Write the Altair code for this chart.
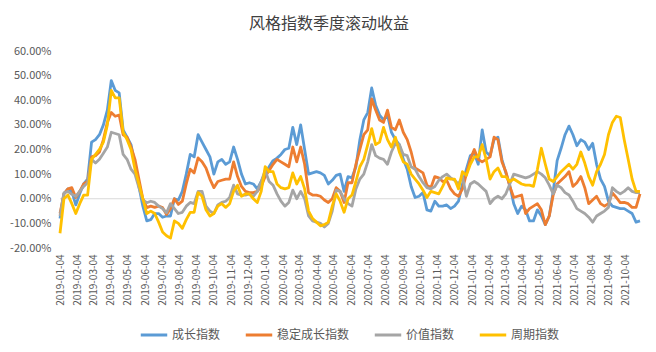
import altair as alt
import pandas as pd

# weekly observations starting 2019-01-04 (Fridays)
start_date = "2019-01-04"

growth = [-8, 2, 4, 3, -2.5, 2, 6, 8, 23, 24, 26, 30, 36, 48, 44, 43, 28, 25, 22, 14,
          5, -3, -9, -8.5, -6, -6, -7.5, -7, -7, 0, -0.5, 3, 10, 18, 17, 26, 23, 20, 17, 10,
          15, 16, 14, 15, 21, 16, 10, 6, 6.5, 6, 4, 7, 10.5, 13, 15.5, 16.5, 18, 20, 20.5, 29,
          22, 30, 20, 10, 10.5, 11, 10.5, 9.5, 6, 7.5, 9.5, 10, 3, 9, 8.5, 13, 24, 32, 35, 45,
          38, 34, 32, 34, 27, 24, 22, 16, 12, 5, 0.5, 1, 2.5, -4.5, -5, -1, -3, -3, -2.5, -4,
          -3, -1, 6, 12, 17.5, 18.5, 14, 28, 19, 17.5, 24, 25, 16, 10.5, 5.5, -2, -6, -3, -4.5, -9,
          -9, -4.5, -7, -10.5, -7, 3, 15.5, 20.5, 26, 29.5, 26, 21.5, 24, 23, 20, 22.5, 14, 8, 5, -1,
          -3, -3.5, -4, -4, -5, -6, -9.5, -9]

stable = [-6, 2, 4, 4.5, 0.5, 3, 6, 7, 17, 17.5, 19, 24, 31, 35, 33.5, 34, 26, 25, 21, 16,
          8, 0, -3.6, -3, -3.5, -3, -3.6, -6.4, -4, 0, -2.3, -1, 6, 12, 10.5, 16.6, 15, 12.5, 8, 4.5,
          7, 7.5, 8, 8, 15, 9, 5, 3, 2.5, 2.5, 3, 5, 9, 11.5, 14, 16, 15, 14, 13, 21,
          15, 21, 14, 2.4, 1.5, 1.5, 1, -0.5, -1.5, 0, 4.5, 3, -1.5, 6.5, 6.5, 14, 20, 26, 28, 40.5,
          36, 32, 31, 36, 29, 28, 32, 27, 24, 19, 12.5, 11.5, 10.5, 5.5, 4.5, 9, 8.5, 7, 7.5, 4,
          2, 1, 4, 10, 16, 20, 16, 15, 16, 17, 25, 24, 15, 11, 5, 0.5, 1, 1.5, -6, -4,
          -3, -2, -4.5, -10.5, -7, 1.5, 6, 7.5, 9, 11, 5, 6.5, 9, 4.5, -2, -0.5, 1, -2, -3, -2,
          2.4, 0.5, -1.6, -1.5, -2, -3.5, -3.5, 2]

value = [-7, 2.4, 3, 1.8, 1, 3, 5, 6.5, 16, 14.5, 16, 18.5, 21, 27, 26.5, 26, 18, 16, 12, 10,
         4.5, -0.5, -1.6, -1, -1.5, -3, -4, -5.7, -2, -4, -6, -5.5, -3, -1.5, -2, 3, 3, -3, -5, -6,
         -2.5, -1.5, -1, 0.5, 5.5, 2, 1.5, 1.5, 2, 1, 3, 7, 11.5, 7, 5.5, 2, -1, -3, -1.5, 3.5,
         0, 3, 0, -7, -9, -9.5, -10, -11.5, -10, -5, 3.5, 3, 0, -2, -3, 4, 8, 10, 15, 22,
         17.5, 16.5, 16, 14, 19, 22.5, 22, 18, 17.5, 13, 12, 9, 6.5, 4.5, 4, 5, 7.5, 9, 10, 8.5,
         7.5, 6, 9, 1, 6, 7, 6, 4.5, 3, -2, 0, 1, 0, 2, 6, 10, 9.5, 9, 8.5, 9,
         10, 11, 10, 8.5, 5.5, 2, 5.5, 4.5, 2.5, 1.5, -1, -4, -5, -6, -7.5, -9.5, -7, -6, -5, -3.5,
         4.5, 3, 2, 3, 4.5, 3, 2.5, 2.5]

cycle = [-14, 0, 1.5, -2, -6, -2, 1.5, 1.5, 16, 18, 20, 23, 30, 44, 41, 41, 27, 24, 20, 12,
         6, 0, -6, -5, -6, -9.5, -13.5, -15, -16, -9, -10, -12, -8.5, -5.5, -5.5, 2.5, 1, -4.5, -7, -6,
         -3, -2, -3.5, -2, 3, 5.5, 1, 2, 2, 0, -1.5, 3, 13, 11, 11, 6, 4.5, 4, 4.5, 10.5,
         6, 9, 4, -5, -8, -9.5, -11, -10.5, -9.5, -3, 2, -1, -5.5, 0, 1.5, 7, 13, 16, 22, 28.5,
         22, 23, 29, 24, 21, 25, 19, 15, 14, 10, 8, 6, 3.5, 0.5, 3, 2.5, 2, 5, 8.5, 8,
         8, 4, 11, 9.5, 14, 17, 17, 22, 16, 8, 11, 12.5, 9, 9, 7, 8, 7, 6, 5.5, 5.5,
         5, 12, 20.5, 14, 8, 7, 9, 11, 12.5, 14, 12, 14, 19, 14.5, 9, 5.5, 11, 14, 18, 26,
         31, 33.5, 33, 24, 16, 8, 3, 3]

series_names = ["成长指数", "稳定成长指数", "价值指数", "周期指数"]
series_colors = ["#5B9BD5", "#ED7D31", "#A5A5A5", "#FFC000"]
y_ticks = [-20, -10, 0, 10, 20, 30, 40, 50, 60]
x_tick_months = [(2019 + (m // 12), m % 12 + 1) for m in range(34)]

dates = pd.date_range(start_date, periods=len(growth), freq="7D")
rows = []
for name, vals in zip(series_names, [growth, stable, value, cycle]):
    for d, v in zip(dates, vals):
        rows.append({"date": d.strftime("%Y-%m-%dT00:00:00"), "series": name, "ret": v})
df = pd.DataFrame(rows)

font = "Noto Sans CJK SC"

x_scale = alt.Scale(
    domain=[alt.DateTime(year=2019, month=1, date=4), alt.DateTime(year=2021, month=10, date=29)],
    nice=False,
)
y_scale = alt.Scale(domain=[-20, 60], nice=False, zero=False)

y_axis = alt.Axis(
    title=None,
    values=y_ticks,
    labelExpr="(datum.value < 0 ? '-' : '') + format(abs(datum.value), '.2f') + '%'",
    labelFontSize=11,
    labelColor="#595959",
    labelFont=font,
    labelPadding=9,
    labelOverlap=False,
    domain=False,
    ticks=False,
    grid=False,
)

lines = alt.Chart(df).mark_line(strokeWidth=2.8, strokeJoin="round").encode(
    x=alt.X(
        "date:T",
        scale=x_scale,
        axis=alt.Axis(
            title=None,
            values=[alt.DateTime(year=y, month=m, date=4) for y, m in x_tick_months],
            format="%Y-%m-%d",
            labelAngle=-90,
            labelFontSize=10,
            labelColor="#595959",
            labelFont=font,
            labelPadding=6,
            domain=False,
            ticks=False,
            grid=False,
            labelOverlap=False,
        ),
    ),
    y=alt.Y("ret:Q", scale=y_scale, axis=y_axis),
    color=alt.Color(
        "series:N",
        scale=alt.Scale(domain=series_names, range=series_colors),
        sort=series_names,
        legend=alt.Legend(
            title=None,
            orient="none",
            direction="horizontal",
            columns=4,
            legendX=79,
            legendY=269,
            symbolType="stroke",
            symbolStrokeWidth=3,
            symbolSize=700,
            labelFontSize=12,
            labelColor="#595959",
            labelFont=font,
            columnPadding=18,
            labelOffset=3,
        ),
    ),
)

zero_rule = alt.Chart(pd.DataFrame({"y": [0]})).mark_rule(color="#D9D9D9", strokeWidth=1).encode(
    y=alt.Y("y:Q", scale=y_scale, axis=y_axis)
)

chart = alt.layer(zero_rule, lines).properties(
    width=580,
    height=197,
    padding={"left": 60, "top": 51, "right": 16, "bottom": 104},
    autosize=alt.AutoSizeParams(type="none"),
    background="white",
    title=alt.TitleParams(
        "风格指数季度滚动收益",
        fontSize=16,
        fontWeight="normal",
        color="#404040",
        font=font,
        anchor="middle",
        offset=13,
        dx=-21,
    ),
).configure_view(stroke=None)

chart.save("out.html", embed_options={"renderer": "svg", "actions": False})
